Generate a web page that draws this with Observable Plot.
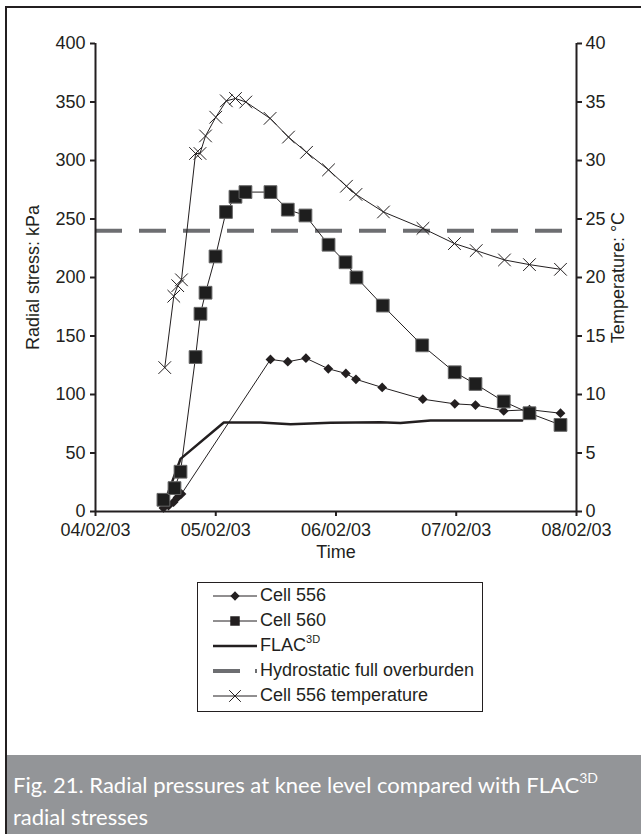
<!DOCTYPE html>
<html>
<head>
<meta charset="utf-8">
<script src="https://cdn.jsdelivr.net/npm/d3@7"></script>
<script src="https://cdn.jsdelivr.net/npm/@observablehq/plot@0.6"></script>
<style>
  html, body { margin: 0; padding: 0; background: #fff; }
  #page { position: relative; width: 641px; height: 834px; overflow: hidden; background: #fff; }
  #frame { position: absolute; left: 5px; top: 6px; width: 700px; height: 900px; border: 2px solid #231f20; box-sizing: border-box; }
  #chart { position: absolute; left: 0; top: 0; }
  #legend { position: absolute; left: 197px; top: 582px; width: 286px; height: 130px; border: 1px solid #231f20; background: #fff; box-sizing: border-box; font-family: "Liberation Sans", Arial, sans-serif; font-size: 18px; color: #231f20; padding-top: 0; }
  .row { display: flex; align-items: center; height: 25px; padding-left: 15px; white-space: nowrap; }
  .row svg { flex: none; margin-right: 3px; }
  .row sup { font-size: 11px; vertical-align: 8px; line-height: 0; }
  #caption { position: absolute; left: 7px; top: 755px; width: 640px; height: 90px; background: #939598; color: #fff; font-family: Lato, "Open Sans", sans-serif; font-size: 22px; line-height: 32px; padding: 14px 0 0 6px; box-sizing: border-box; white-space: nowrap; }
  #caption sup { font-size: 14px; vertical-align: 10px; line-height: 0; }
</style>
</head>
<body>
<div id="page">
  <div id="frame"></div>
  <div id="chart"></div>
  <div id="legend"></div>
  <div id="caption">Fig. 21. Radial pressures at knee level compared with FLAC<sup>3D</sup><br>radial stresses</div>
</div>
<script>
// ---- data (x = days after 04/02/03 00:00) ----
const xTickLabels = ["04/02/03", "05/02/03", "06/02/03", "07/02/03", "08/02/03"];
const stressTicks = [0, 50, 100, 150, 200, 250, 300, 350, 400];
const tempTicks = [0, 5, 10, 15, 20, 25, 30, 35, 40];

const cell556Day = [0.565, 0.607, 0.649, 0.682, 0.715, 1.455, 1.599, 1.750, 1.936, 2.082, 2.166, 2.384, 2.722, 2.988, 3.160, 3.395, 3.609, 3.867];
const cell556Kpa = [3, 5, 8, 12, 15, 130, 128, 131, 122, 118, 113, 106, 96, 92, 91, 86, 87, 84];

const cell560Day = [0.565, 0.657, 0.707, 0.832, 0.873, 0.915, 0.998, 1.085, 1.164, 1.247, 1.455, 1.599, 1.746, 1.938, 2.079, 2.170, 2.389, 2.717, 2.987, 3.160, 3.395, 3.609, 3.867];
const cell560Kpa = [10, 20, 34, 132, 169, 187, 218, 256, 269, 273, 273, 258, 253, 228, 213, 200, 176, 142, 119, 109, 94, 84, 74];

const flacDay = [0.565, 0.707, 1.067, 1.372, 1.622, 1.954, 2.370, 2.536, 2.786, 3.548];
const flacKpa = [5, 45, 76, 76, 74.6, 75.9, 76.3, 75.6, 77.8, 77.8];

const hydrostaticKpa = 240;

const tempDay = [0.576, 0.651, 0.684, 0.715, 0.832, 0.869, 0.915, 1.000, 1.088, 1.164, 1.250, 1.452, 1.605, 1.755, 1.938, 2.087, 2.166, 2.395, 2.723, 2.985, 3.166, 3.401, 3.609, 3.867];
const tempC = [12.3, 18.4, 19.3, 19.8, 30.6, 30.6, 32.1, 33.7, 35.1, 35.3, 35.0, 33.6, 32.0, 30.7, 29.2, 27.8, 27.1, 25.6, 24.2, 22.9, 22.3, 21.5, 21.1, 20.7];

// secondary axis: 0–40 °C shares the 0–400 kPa range
const kpaPerDegree = stressTicks[stressTicks.length - 1] / tempTicks[tempTicks.length - 1];

const zip = (xs, ys) => xs.map((d, i) => ({d, v: ys[i]}));
const cell556 = zip(cell556Day, cell556Kpa);
const cell560 = zip(cell560Day, cell560Kpa);
const flac = zip(flacDay, flacKpa);
const temp = zip(tempDay, tempC.map(t => t * kpaPerDegree));

const ink = "#231f20";
const dashGrey = "#6d6e71";

const chart = Plot.plot({
  width: 641,
  height: 575,
  marginTop: 43,
  marginLeft: 95,
  marginRight: 65,
  marginBottom: 64,
  style: "font-family: 'Liberation Sans', Arial, sans-serif; font-size: 18px; color: #231f20; background: transparent; overflow: visible;",
  x: {domain: [0, xTickLabels.length - 1]},
  y: {domain: [stressTicks[0], stressTicks[stressTicks.length - 1]]},
  marks: [
    Plot.ruleY([hydrostaticKpa], {stroke: dashGrey, strokeWidth: 4, strokeDasharray: "27,17"}),
    Plot.line(flac, {x: "d", y: "v", stroke: ink, strokeWidth: 2.5}),
    Plot.line(cell556, {x: "d", y: "v", stroke: ink, strokeWidth: 1}),
    Plot.line(cell560, {x: "d", y: "v", stroke: ink, strokeWidth: 1}),
    Plot.line(temp, {x: "d", y: "v", stroke: ink, strokeWidth: 1}),
    Plot.dot(cell556, {x: "d", y: "v", symbol: "diamond2", r: 4.4, fill: ink, stroke: "none"}),
    Plot.dot(cell560, {x: "d", y: "v", symbol: "square", r: 7.2, fill: "#1e1e1e", stroke: "#666", strokeWidth: 1}),
    Plot.dot(temp, {x: "d", y: "v", symbol: "times", r: 5.8, stroke: ink, strokeWidth: 1}),
    Plot.ruleX([0, xTickLabels.length - 1], {stroke: ink, strokeWidth: 2}),
    Plot.ruleY([0], {stroke: ink, strokeWidth: 2}),
    Plot.axisY(stressTicks, {anchor: "left", tickSize: 5, tickPadding: 5, strokeWidth: 2, fontSize: 18, label: null}),
    Plot.axisY(tempTicks.map(t => t * kpaPerDegree), {anchor: "right", tickSize: 5, tickPadding: 4, strokeWidth: 2, fontSize: 18, tickFormat: v => v / kpaPerDegree, label: null}),
    Plot.axisX(xTickLabels.map((_, i) => i), {anchor: "bottom", tickSize: 5, tickPadding: 7, strokeWidth: 2, fontSize: 18, tickFormat: i => xTickLabels[i], label: null}),
    Plot.text(["Time"], {frameAnchor: "bottom", dy: 46, fontSize: 18}),
    Plot.text(["Radial stress: kPa"], {frameAnchor: "left", textAnchor: "middle", dx: -62, rotate: -90, fontSize: 18}),
    Plot.text(["Temperature: °C"], {frameAnchor: "right", textAnchor: "middle", dx: 42, rotate: -90, fontSize: 18})
  ]
});
document.getElementById("chart").appendChild(chart);

// ---- legend ----
const legendItems = [
  {label: "Cell 556", kind: "diamond"},
  {label: "Cell 560", kind: "square"},
  {label: "FLAC<sup>3D</sup>", kind: "flac"},
  {label: "Hydrostatic full overburden", kind: "dash"},
  {label: "Cell 556 temperature", kind: "times"}
];
const legend = document.getElementById("legend");
for (const item of legendItems) {
  const row = document.createElement("div");
  row.className = "row";
  const w = 44, h = 16, c = h / 2;
  let sample = "";
  if (item.kind === "dash") {
    sample = `<line x1="0" x2="${w}" y1="${c}" y2="${c}" stroke="${dashGrey}" stroke-width="4" stroke-dasharray="27,15"/>`;
  } else if (item.kind === "flac") {
    sample = `<line x1="0" x2="${w}" y1="${c}" y2="${c}" stroke="${ink}" stroke-width="2.5"/>`;
  } else {
    sample = `<line x1="0" x2="${w}" y1="${c}" y2="${c}" stroke="${ink}" stroke-width="1"/>`;
    const sym = {diamond: d3.symbolDiamond2, square: d3.symbolSquare, times: d3.symbolTimes}[item.kind];
    const size = {diamond: 55, square: 90, times: 90}[item.kind];
    const attrs = item.kind === "times" ? `fill="none" stroke="${ink}" stroke-width="1"` : `fill="${ink}"`;
    sample += `<path transform="translate(${w / 2},${c})" d="${d3.symbol(sym, size)()}" ${attrs}/>`;
  }
  row.innerHTML = `<svg width="${w}" height="${h}">${sample}</svg><span>${item.label}</span>`;
  legend.appendChild(row);
}
</script>
</body>
</html>
